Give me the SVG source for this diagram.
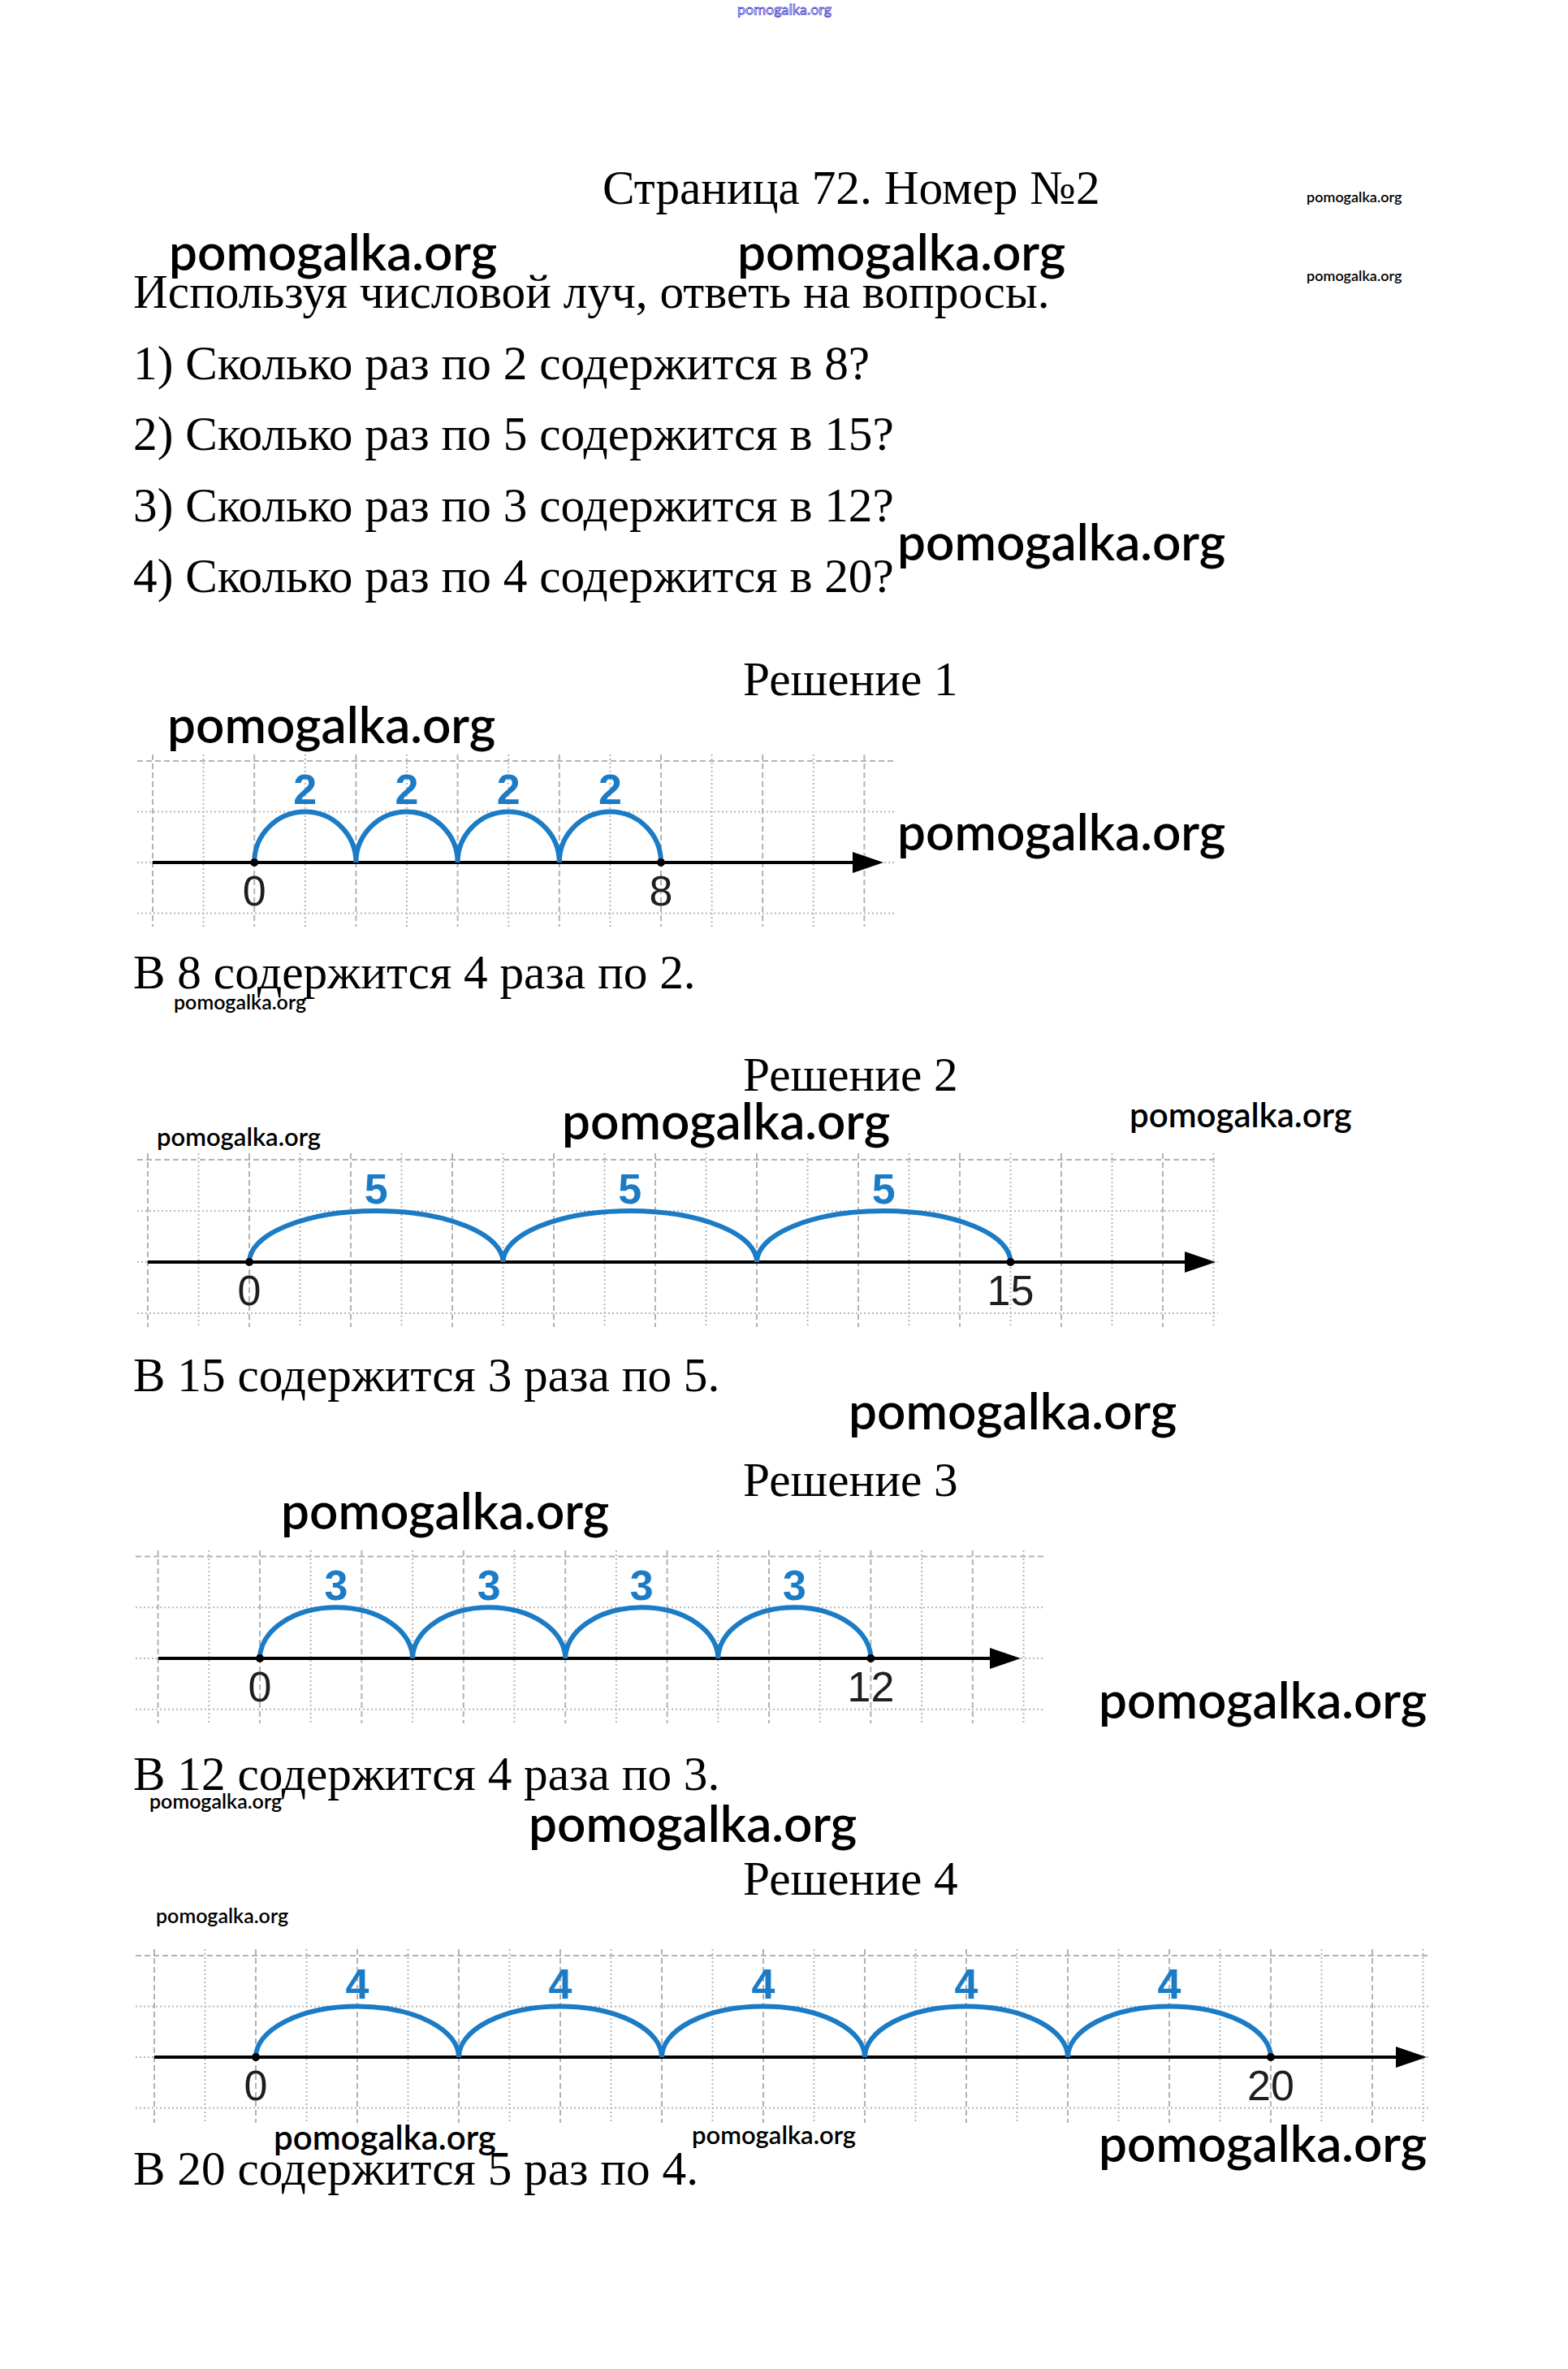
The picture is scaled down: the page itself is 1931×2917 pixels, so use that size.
<svg xmlns="http://www.w3.org/2000/svg" width="1931" height="2917" viewBox="0 0 1931 2917">
<style>
.t{font-family:"Liberation Serif","Times New Roman",serif;font-size:59.3px;fill:#000}
.w{font-family:Lato,"Open Sans",sans-serif;font-weight:600;fill:#000}
.gd{fill:none;stroke:#b3b3b3;stroke-width:2;stroke-dasharray:7 4}
.gt{fill:none;stroke:#b8b8b8;stroke-width:2;stroke-dasharray:2 3}
.ax{fill:none;stroke:#000;stroke-width:4}
.arc{fill:none;stroke:#1b7bc5;stroke-width:6;stroke-linejoin:miter}
.bl{font-family:"Liberation Sans",Arial,sans-serif;font-weight:bold;font-size:52px;fill:#1b7bc5;text-anchor:middle}
.nl{font-family:"Liberation Sans",Arial,sans-serif;font-size:52px;fill:#1e1e1e;text-anchor:middle}
</style>
<rect width="1931" height="2917" fill="#fff"/>

<g id="texts">
<text x="908" y="18" font-family="Lato,sans-serif" font-size="18" fill="#fff" stroke="#3a3ad0" stroke-width="0.8">pomogalka.org</text>
<text class="t" x="742" y="251">Страница 72. Номер №2</text>
<text class="t" x="164" y="379">Используя числовой луч, ответь на вопросы.</text>
<text class="t" x="164" y="467">1) Сколько раз по 2 содержится в 8?</text>
<text class="t" x="164" y="554">2) Сколько раз по 5 содержится в 15?</text>
<text class="t" x="164" y="642">3) Сколько раз по 3 содержится в 12?</text>
<text class="t" x="164" y="729">4) Сколько раз по 4 содержится в 20?</text>
<text class="t" x="915" y="856">Решение 1</text>
<text class="t" x="164" y="1217">В 8 содержится 4 раза по 2.</text>
<text class="t" x="915" y="1343">Решение 2</text>
<text class="t" x="164" y="1713">В 15 содержится 3 раза по 5.</text>
<text class="t" x="915" y="1842">Решение 3</text>
<text class="t" x="164" y="2204">В 12 содержится 4 раза по 3.</text>
<text class="t" x="915" y="2333">Решение 4</text>
<text class="t" x="164" y="2690">В 20 содержится 5 раз по 4.</text>
</g>

<g id="watermarks">
<text class="w" x="1609" y="249" font-size="18">pomogalka.org</text>
<text class="w" x="1609" y="346" font-size="18">pomogalka.org</text>
<text class="w" x="208" y="333" font-size="62">pomogalka.org</text>
<text class="w" x="908" y="333" font-size="62">pomogalka.org</text>
<text class="w" x="1105" y="690" font-size="62">pomogalka.org</text>
<text class="w" x="206" y="915" font-size="62">pomogalka.org</text>
<text class="w" x="1105" y="1047" font-size="62">pomogalka.org</text>
<text class="w" x="214" y="1243" font-size="25">pomogalka.org</text>
<text class="w" x="193" y="1411" font-size="31">pomogalka.org</text>
<text class="w" x="692" y="1403" font-size="62">pomogalka.org</text>
<text class="w" x="1391" y="1388" font-size="42">pomogalka.org</text>
<text class="w" x="1045" y="1760" font-size="62">pomogalka.org</text>
<text class="w" x="346" y="1883" font-size="62">pomogalka.org</text>
<text class="w" x="1353" y="2116" font-size="62">pomogalka.org</text>
<text class="w" x="184" y="2227" font-size="25">pomogalka.org</text>
<text class="w" x="651" y="2268" font-size="62">pomogalka.org</text>
<text class="w" x="192" y="2368" font-size="25">pomogalka.org</text>
<text class="w" x="337" y="2647" font-size="42">pomogalka.org</text>
<text class="w" x="852" y="2640" font-size="31">pomogalka.org</text>
<text class="w" x="1353" y="2662" font-size="62">pomogalka.org</text>
</g>

<g id="line1">
<path class="gd" d="M188,929V1141M313.2,929V1141M438.4,929V1141M563.6,929V1141M688.8,929V1141M814,929V1141M939.2,929V1141M1064.4,929V1141"/>
<path class="gt" d="M250.6,929V1141M375.8,929V1141M501,929V1141M626.2,929V1141M751.4,929V1141M876.6,929V1141M1001.8,929V1141"/>
<path class="gd" d="M169,937H1103"/>
<path class="gt" d="M169,999.5H1103M169,1062H1103M169,1124.5H1103"/>
</g>
<g id="line2">
<path class="gd" d="M182,1420V1634M307,1420V1634M432,1420V1634M557,1420V1634M682,1420V1634M807,1420V1634M932,1420V1634M1057,1420V1634M1182,1420V1634M1307,1420V1634M1432,1420V1634"/>
<path class="gt" d="M244.5,1420V1634M369.5,1420V1634M494.5,1420V1634M619.5,1420V1634M744.5,1420V1634M869.5,1420V1634M994.5,1420V1634M1119.5,1420V1634M1244.5,1420V1634M1369.5,1420V1634M1494.5,1420V1634"/>
<path class="gd" d="M169,1428H1500"/>
<path class="gt" d="M169,1491H1500M169,1554H1500M169,1617H1500"/>
</g>
<g id="line3">
<path class="gd" d="M194.6,1909V2122M320,1909V2122M445.4,1909V2122M570.8,1909V2122M696.2,1909V2122M821.6,1909V2122M947,1909V2122M1072.4,1909V2122M1197.8,1909V2122"/>
<path class="gt" d="M257.3,1909V2122M382.7,1909V2122M508.1,1909V2122M633.5,1909V2122M758.9,1909V2122M884.3,1909V2122M1009.7,1909V2122M1135.1,1909V2122M1260.5,1909V2122"/>
<path class="gd" d="M167,1916.6H1287"/>
<path class="gt" d="M167,1979.3H1287M167,2042H1287M167,2104.7H1287"/>
</g>
<g id="line4">
<path class="gd" d="M190,2400V2614M315,2400V2614M440,2400V2614M565,2400V2614M690,2400V2614M815,2400V2614M940,2400V2614M1065,2400V2614M1190,2400V2614M1315,2400V2614M1440,2400V2614M1565,2400V2614M1690,2400V2614"/>
<path class="gt" d="M252.5,2400V2614M377.5,2400V2614M502.5,2400V2614M627.5,2400V2614M752.5,2400V2614M877.5,2400V2614M1002.5,2400V2614M1127.5,2400V2614M1252.5,2400V2614M1377.5,2400V2614M1502.5,2400V2614M1627.5,2400V2614M1752.5,2400V2614"/>
<path class="gd" d="M167,2408H1762"/>
<path class="gt" d="M167,2470.5H1762M167,2533H1762M167,2595.5H1762"/>
</g>

<g id="connectors">
<path class="ax" d="M188,1062H1054"/>
<polygon points="1088,1062 1050,1049 1050,1075" fill="#000"/>
<path class="arc" d="M313.2,1062A62.6,62.5 0 0 1 438.4,1062A62.6,62.5 0 0 1 563.6,1062A62.6,62.5 0 0 1 688.8,1062A62.6,62.5 0 0 1 814,1062"/>
<circle cx="313.2" cy="1062" r="5" fill="#000"/>
<circle cx="814" cy="1062" r="5" fill="#000"/>

<path class="ax" d="M182,1554H1463"/>
<polygon points="1497,1554 1459,1541 1459,1567" fill="#000"/>
<path class="arc" d="M307,1554A156.25,63 0 0 1 619.5,1554A156.25,63 0 0 1 932,1554A156.25,63 0 0 1 1244.5,1554"/>
<circle cx="307" cy="1554" r="5" fill="#000"/>
<circle cx="1244.5" cy="1554" r="5" fill="#000"/>

<path class="ax" d="M195,2042H1223"/>
<polygon points="1257,2042 1219,2029 1219,2055" fill="#000"/>
<path class="arc" d="M320,2042A94.05,62.7 0 0 1 508.1,2042A94.05,62.7 0 0 1 696.2,2042A94.05,62.7 0 0 1 884.3,2042A94.05,62.7 0 0 1 1072.4,2042"/>
<circle cx="320" cy="2042" r="5" fill="#000"/>
<circle cx="1072.4" cy="2042" r="5" fill="#000"/>

<path class="ax" d="M190,2533H1723"/>
<polygon points="1757,2533 1719,2520 1719,2546" fill="#000"/>
<path class="arc" d="M315,2533A125,62.5 0 0 1 565,2533A125,62.5 0 0 1 815,2533A125,62.5 0 0 1 1065,2533A125,62.5 0 0 1 1315,2533A125,62.5 0 0 1 1565,2533"/>
<circle cx="315" cy="2533" r="5" fill="#000"/>
<circle cx="1565" cy="2533" r="5" fill="#000"/>
</g>

<g id="labels">
<text class="bl" x="375.8" y="990">2</text>
<text class="bl" x="501" y="990">2</text>
<text class="bl" x="626.2" y="990">2</text>
<text class="bl" x="751.4" y="990">2</text>
<text class="nl" x="313.2" y="1115">0</text>
<text class="nl" x="814" y="1115">8</text>

<text class="bl" x="463.25" y="1482">5</text>
<text class="bl" x="775.75" y="1482">5</text>
<text class="bl" x="1088.25" y="1482">5</text>
<text class="nl" x="307" y="1607">0</text>
<text class="nl" x="1244.5" y="1607">15</text>

<text class="bl" x="414.05" y="1970">3</text>
<text class="bl" x="602.15" y="1970">3</text>
<text class="bl" x="790.25" y="1970">3</text>
<text class="bl" x="978.35" y="1970">3</text>
<text class="nl" x="320" y="2095">0</text>
<text class="nl" x="1072.4" y="2095">12</text>

<text class="bl" x="440" y="2461">4</text>
<text class="bl" x="690" y="2461">4</text>
<text class="bl" x="940" y="2461">4</text>
<text class="bl" x="1190" y="2461">4</text>
<text class="bl" x="1440" y="2461">4</text>
<text class="nl" x="315" y="2586">0</text>
<text class="nl" x="1565" y="2586">20</text>
</g>
</svg>
